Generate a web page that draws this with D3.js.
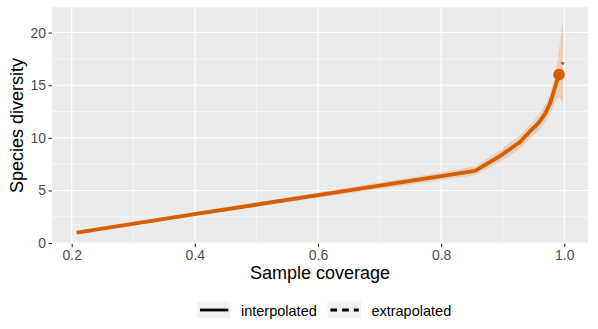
<!DOCTYPE html>
<html>
<head>
<meta charset="utf-8">
<script src="https://cdn.jsdelivr.net/npm/d3@7"></script>
<style>
  body { margin: 0; background: #fff; }
  svg { display: block; font-family: "Liberation Sans", Arial, sans-serif; }
</style>
</head>
<body>
<svg id="chart"></svg>
<script>
// Interpolated curve (sample coverage vs. species diversity)
const coverage = [0.208, 0.40, 0.60, 0.80, 0.855, 0.8955, 0.928, 0.944, 0.958, 0.969, 0.977, 0.982, 0.987, 0.9915];
const diversity = [1.0, 2.75, 4.55, 6.35, 6.85, 8.26, 9.6, 10.6, 11.4, 12.3, 13.3, 14.2, 15.2, 16.0];
const lowerCI = [0.9, 2.6, 4.3, 6.0, 6.45, 7.7, 8.95, 9.95, 10.7, 11.5, 12.3, 13.0, 13.6, 13.9];
const upperCI = [1.1, 2.95, 4.8, 6.7, 7.3, 8.8, 10.25, 11.25, 12.1, 13.1, 14.3, 15.3, 16.7, 18.3];

// Extrapolated part
const extCoverage = [0.9915, 0.998];
const extDiversity = [16.0, 17.2];
const extLower = [13.9, 13.3];
const extUpper = [18.3, 21.2];

// Observed point
const observed = [0.9915, 16.0];

const xTicks = [0.2, 0.4, 0.6, 0.8, 1.0];
const xMinor = [0.3, 0.5, 0.7, 0.9];
const yTicks = [0, 5, 10, 15, 20];
const yMinor = [2.5, 7.5, 12.5, 17.5];
const legendLabels = ['interpolated', 'extrapolated'];

const width = 598, height = 329;
const panel = {left: 52, right: 588, top: 7.3, bottom: 243.7};
const orange = '#D55E00';

const svg = d3.select('#chart')
  .attr('width', width)
  .attr('height', height)
  .attr('viewBox', [0, 0, width, height]);

const x = d3.scaleLinear([0.168, 1.0385], [panel.left, panel.right]);
const y = d3.scaleLinear([-0.06, 22.4], [panel.bottom, panel.top]);

// Panel background
svg.append('rect')
  .attr('x', panel.left)
  .attr('y', panel.top)
  .attr('width', panel.right - panel.left)
  .attr('height', panel.bottom - panel.top)
  .attr('fill', '#EBEBEB');

// Grid lines
const grid = svg.append('g').attr('stroke', '#fff').attr('fill', 'none');
grid.selectAll('.xminor').data(xMinor).join('line')
  .attr('x1', d => x(d)).attr('x2', d => x(d))
  .attr('y1', panel.top).attr('y2', panel.bottom)
  .attr('stroke-width', 0.55);
grid.selectAll('.yminor').data(yMinor).join('line')
  .attr('y1', d => y(d)).attr('y2', d => y(d))
  .attr('x1', panel.left).attr('x2', panel.right)
  .attr('stroke-width', 0.55);
grid.selectAll('.xmajor').data(xTicks).join('line')
  .attr('x1', d => x(d)).attr('x2', d => x(d))
  .attr('y1', panel.top).attr('y2', panel.bottom)
  .attr('stroke-width', 1.1);
grid.selectAll('.ymajor').data(yTicks).join('line')
  .attr('y1', d => y(d)).attr('y2', d => y(d))
  .attr('x1', panel.left).attr('x2', panel.right)
  .attr('stroke-width', 1.1);

// Confidence band
const band = d3.area()
  .x(i => x(i[0]))
  .y0(i => y(i[1]))
  .y1(i => y(i[2]));

const interpBand = coverage.map((c, i) => [c, lowerCI[i], upperCI[i]]);
const extBand = extCoverage.map((c, i) => [c, extLower[i], extUpper[i]]);

svg.append('path')
  .attr('d', band(interpBand.concat(extBand.slice(1))))
  .attr('fill', orange)
  .attr('fill-opacity', 0.2);

// Lines
const line = d3.line()
  .x(d => x(d[0]))
  .y(d => y(d[1]));

svg.append('path')
  .attr('d', line(coverage.map((c, i) => [c, diversity[i]])))
  .attr('fill', 'none')
  .attr('stroke', orange)
  .attr('stroke-width', 3.8)
  .attr('stroke-linejoin', 'round');

svg.append('path')
  .attr('d', line(extCoverage.map((c, i) => [c, extDiversity[i]])))
  .attr('fill', 'none')
  .attr('stroke', orange)
  .attr('stroke-width', 3.3)
  .attr('stroke-dasharray', '5.5,5.2');

svg.append('circle')
  .attr('cx', x(observed[0]))
  .attr('cy', y(observed[1]))
  .attr('r', 5.8)
  .attr('fill', orange);

// Axes
svg.append('g')
  .attr('transform', `translate(0,${panel.bottom})`)
  .call(d3.axisBottom(x).tickValues(xTicks).tickFormat(d3.format('.1f')).tickSize(3.5).tickPadding(3))
  .call(g => g.select('.domain').remove())
  .call(g => g.selectAll('.tick line').attr('stroke', '#333').attr('stroke-width', 1.1))
  .call(g => g.selectAll('.tick text').attr('fill', '#4D4D4D').attr('font-size', 14));

svg.append('g')
  .attr('transform', `translate(${panel.left},0)`)
  .call(d3.axisLeft(y).tickValues(yTicks).tickSize(3.5).tickPadding(2.5))
  .call(g => g.select('.domain').remove())
  .call(g => g.selectAll('.tick line').attr('stroke', '#333').attr('stroke-width', 1.1))
  .call(g => g.selectAll('.tick text').attr('fill', '#4D4D4D').attr('font-size', 14));

svg.selectAll('.tick text').attr('font-family', '"Liberation Sans", Arial, sans-serif');

// Axis titles
svg.append('text')
  .attr('x', (panel.left + panel.right) / 2)
  .attr('y', 279)
  .attr('text-anchor', 'middle')
  .attr('font-size', 18)
  .attr('fill', '#000')
  .text('Sample coverage');

svg.append('text')
  .attr('transform', `translate(23,${(panel.top + panel.bottom) / 2}) rotate(-90)`)
  .attr('text-anchor', 'middle')
  .attr('font-size', 18)
  .attr('fill', '#000')
  .text('Species diversity');

// Legend
const legend = svg.append('g').attr('transform', 'translate(197.3,301.7)');
const keyStep = 130.4;
const keys = legend.selectAll('g')
  .data(legendLabels)
  .join('g')
  .attr('transform', (d, i) => `translate(${i * keyStep},0)`);

keys.append('rect')
  .attr('width', 33.4)
  .attr('height', 16.6)
  .attr('fill', '#F2F2F2');

keys.append('line')
  .attr('x1', 2.7).attr('x2', 31)
  .attr('y1', 8.3).attr('y2', 8.3)
  .attr('stroke', '#000')
  .attr('stroke-width', 2.8)
  .attr('stroke-dasharray', (d, i) => i ? '6.7,5' : null);

keys.append('text')
  .attr('x', 43.7)
  .attr('y', 14)
  .attr('font-size', 14.5)
  .attr('fill', '#000')
  .text(d => d);
</script>
</body>
</html>
